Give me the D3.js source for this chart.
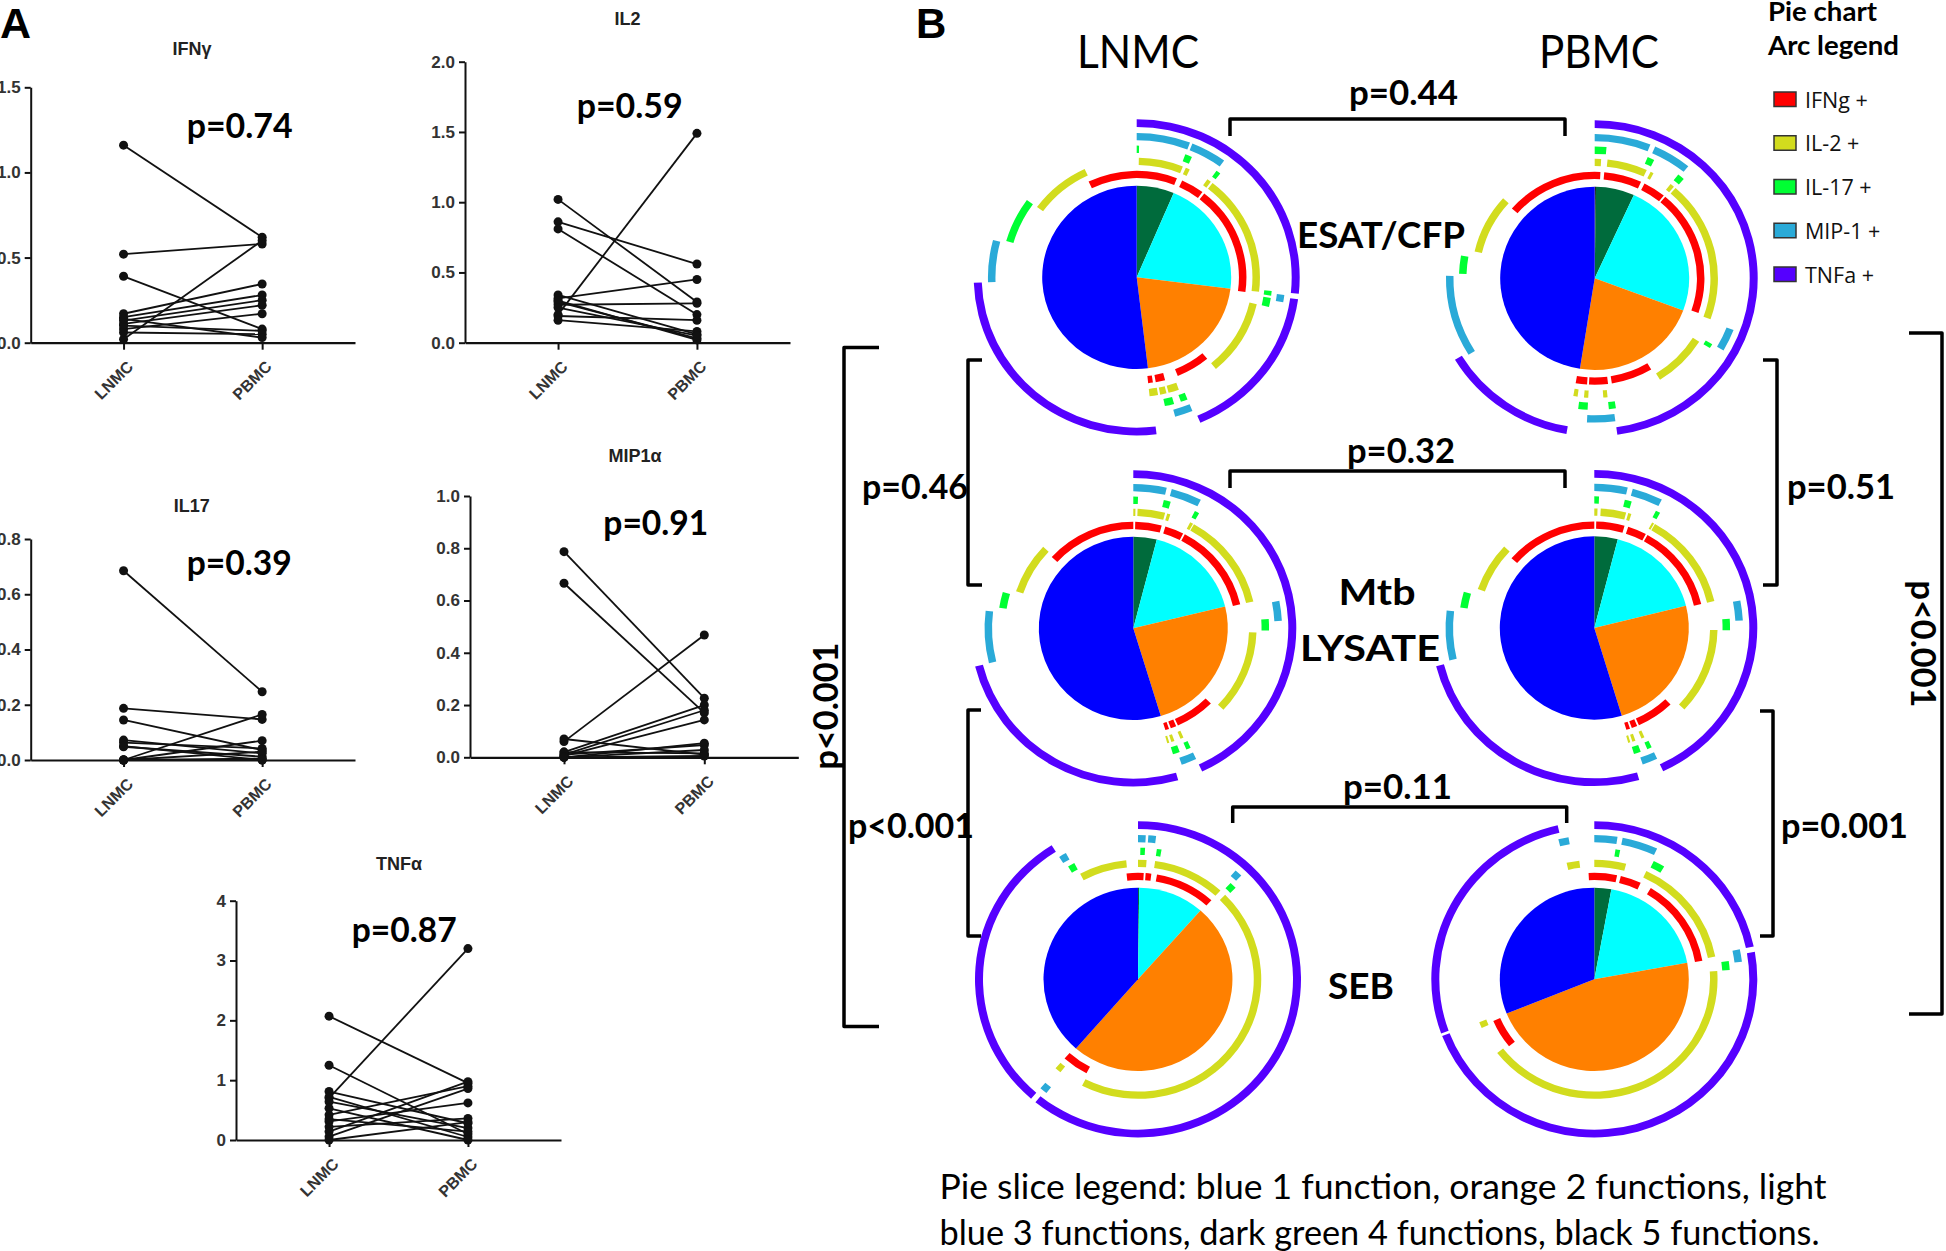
<!DOCTYPE html>
<html><head><meta charset="utf-8">
<script src="https://cdn.jsdelivr.net/npm/d3@7"></script>
<style>body{margin:0;background:#fff} svg{display:block}</style>
</head><body>
<svg id="chart" width="1946" height="1251"></svg>
<script>
// ================= DATA =================
// Panel A : paired LNMC vs PBMC values
const groups = ["LNMC", "PBMC"];
const cytokinePanels = ["IFNγ", "IL2", "IL17", "MIP1α", "TNFα"];
const pValuesA = ["p=0.74", "p=0.59", "p=0.39", "p=0.91", "p=0.87"];
const yMaxA = [1.5, 2.0, 0.8, 1.0, 4];
const yTicksA = [[0, 0.5, 1.0, 1.5], [0, 0.5, 1.0, 1.5, 2.0], [0, 0.2, 0.4, 0.6, 0.8], [0, 0.2, 0.4, 0.6, 0.8, 1.0], [0, 1, 2, 3, 4]];

const ifngLNMC = [1.16, 0.52, 0.39, 0.02, 0.17, 0.15, 0.13, 0.11, 0.08, 0.10, 0.06, 0.14];
const ifngPBMC = [0.62, 0.58, 0.08, 0.60, 0.345, 0.28, 0.25, 0.22, 0.17, 0.07, 0.05, 0.03];
const il2LNMC = [0.20, 1.02, 0.86, 0.81, 0.34, 0.315, 0.29, 0.27, 0.19, 0.16, 0.30, 0.25];
const il2PBMC = [1.49, 0.29, 0.56, 0.20, 0.06, 0.45, 0.03, 0.28, 0.16, 0.08, 0.02, 0.05];
const il17LNMC = [0.685, 0.187, 0.145, 0.0, 0.072, 0.063, 0.048, 0.0, 0.0, 0.0, 0.05, 0.0];
const il17PBMC = [0.247, 0.147, 0.036, 0.165, 0.024, 0.042, 0.012, 0.07, 0.03, 0.005, 0.0, 0.0];
const mipLNMC = [0.787, 0.666, 0.06, 0.07, 0.02, 0.01, 0.005, 0.0, 0.01, 0.0, 0.02, 0.0];
const mipPBMC = [0.226, 0.17, 0.468, 0.01, 0.20, 0.18, 0.143, 0.054, 0.047, 0.028, 0.015, 0.005];
const tnfLNMC = [0.70, 2.07, 1.25, 0.81, 0.72, 0.64, 0.53, 0.42, 0.31, 0.22, 0.14, 0.056, 0.0, 0.35];
const tnfPBMC = [3.20, 0.95, 0.10, 0.28, 0.05, 0.20, 0.0, 0.90, 0.62, 0.36, 0.975, 0.86, 0.30, 0.14];

// Panel B : SPICE pies
const sources = ["LNMC", "PBMC"];
const stimuli = [["ESAT/CFP"], ["Mtb", "LYSATE"], ["SEB"]];
const sliceLabels = ["5 functions", "4 functions", "3 functions", "2 functions", "1 function"];
const sliceColors = ["#000000", "#006b3c", "#00ffff", "#ff8000", "#0000ff"];
// slice shares (% of responding cells), order: 5,4,3,2,1 functions
const lnmcEsatSlices = [0.0, 6.4, 20.6, 21.1, 51.9];
const pbmcEsatSlices = [0.2, 6.6, 23.9, 21.8, 47.5];
const lnmcMtbSlices = [0.0, 4.0, 17.2, 24.1, 54.7];
const pbmcMtbSlices = [0.0, 4.0, 17.1, 24.2, 54.7];
const lnmcSebSlices = [0.0, 0.2, 11.3, 49.9, 38.6];
const pbmcSebSlices = [0.0, 2.9, 19.2, 46.8, 31.1];

const arcLegendLabels = ["IFNg +", "IL-2 +", "IL-17 +", "MIP-1 +", "TNFa +"];
const arcColors = ["#ff0000", "#d2dc1e", "#00ff33", "#2aaad8", "#5500ff"];
// arcs: [cytokine index, start deg, end deg] clockwise from 12 o'clock
const lnmcEsatArcs = [
  [0,-26,21.5],[0,24.5,36.8],[0,38,98],[0,140,158],[0,165,170],[0,171.5,174],
  [1,-54,-25],[1,1,22],[1,23.5,25.5],[1,35,37],[1,38,97],[1,103,140],[1,160,165],[1,166,169],[1,170,174],
  [2,-74,-54],[2,0,1],[2,21,24],[2,36,38],[2,96,98],[2,99,103],[2,158,161],[2,164,168],
  [3,-92,-75],[3,0,21],[3,22,36],[3,97,100],[3,158,165],
  [4,0,96],[4,98,157],[4,173,268]
];
const pbmcEsatArcs = [
  [0,-49,3],[0,5,25],[0,27,39],[0,40,109],[0,149,171],[0,173,183],[0,184,190],
  [1,-77,-48],[1,0,3],[1,6,25],[1,27,28.5],[1,38,40],[1,41,110],[1,122,148],[1,174,176],[1,183,185],[1,188,190],
  [2,-88,-80],[2,0,5],[2,23,26],[2,38,41],[2,120,122],[2,171,174],[2,183,187],
  [3,-122,-89],[3,0,22],[3,24,39],[3,111,120],[3,172,183],
  [4,0,172],[4,190,239]
];
const lnmcMtbArcs = [
  [0,-48,0],[0,1,15],[0,17,27],[0,28,77],[0,135,156],[0,157,160],[0,161,163],
  [1,-72,-47],[1,0,1],[1,2,15],[1,16,17.5],[1,27.5,29],[1,29.5,77],[1,92,133],[1,156,157.5],[1,160.5,162],[1,163,164],
  [2,-81,-74],[2,0,2],[2,13,16],[2,27,29],[2,86,91],[2,155,157],[2,160,163],
  [3,-104,-83],[3,0,13],[3,15,27],[3,79,87],[3,155,161],
  [4,0,155],[4,164,256]
];
const pbmcMtbArcs = [
  [0,-49,0],[0,1,16],[0,18,28],[0,29,77],[0,136,156],[0,157,160],[0,161,163],
  [1,-71,-47],[1,0,1.5],[1,3,15],[1,16,17.5],[1,28,29],[1,29.5,77],[1,91,133],[1,156,157.5],[1,160.5,162],[1,163,164],
  [2,-81,-74],[2,0,2],[2,13,16],[2,27,29],[2,86,91],[2,155,157],[2,160,163],
  [3,-103,-83],[3,0,13],[3,15,27],[3,79,87],[3,155,161],
  [4,0,155],[4,164,256]
];
const lnmcSebArcs = [
  [0,-6,3],[0,4,7],[0,10,42],[0,208,222],
  [1,-28,-5.5],[1,0,4],[1,8,42],[1,45,207],[1,219,222],
  [2,-31,-28],[2,1,3],[2,8,10],[2,43,46],
  [3,-32,-29],[3,0,3],[3,4,7],[3,41,44],[3,218,221],
  [4,0,219],[4,221,328]
];
const pbmcSebArcs = [
  [0,-3,12],[0,14,25],[0,31,80],[0,231,247],
  [1,-13,-7],[1,0,15],[1,25,79],[1,86,232],[1,246,249],
  [2,9,11],[2,26,31],[2,82,86],
  [3,-14,-10],[3,0,9],[3,11,25],[3,78,83],
  [4,0,78],[4,80,249],[4,250,347]
];
const pHorizontal = ["p=0.44", "p=0.32", "p=0.11"];
const pLeft = ["p=0.46", "p<0.001", "p<0.001"];
const pRight = ["p=0.51", "p=0.001", "p<0.001"];
const pieLegendLines = ["Pie slice legend: blue 1 function, orange 2 functions, light",
                        "blue 3 functions, dark green 4 functions, black 5 functions."];

// ================= DRAW =================
const svg = d3.select("#chart");
const FA = "'Liberation Sans', Arial, sans-serif";
const FB = "Lato, 'Open Sans', sans-serif";
const INK = "#111";

svg.append("text").attr("x", 0).attr("y", 38).text("A")
  .attr("font-family", FA).attr("font-weight", "bold").attr("font-size", 43);
svg.append("text").attr("x", 916).attr("y", 38).text("B")
  .attr("font-family", FA).attr("font-weight", "bold").attr("font-size", 42);

// ---------- Panel A ----------
const layoutA = [
  {ax: 30.7, y0: 342.7, yTop: 87.3, xEnd: 355, tx: 192, ty: 55, px: 186.7, py: 138, pw: 106},
  {ax: 465, y0: 342.7, yTop: 61.7, xEnd: 790, tx: 627.5, ty: 25, px: 576.7, py: 118, pw: 106},
  {ax: 30.7, y0: 760, yTop: 539, xEnd: 355, tx: 191.7, ty: 511.5, px: 186.7, py: 575, pw: 105},
  {ax: 470, y0: 757.3, yTop: 496, xEnd: 798.3, tx: 635, ty: 461.5, px: 603.3, py: 535, pw: 105},
  {ax: 236, y0: 1140, yTop: 900.7, xEnd: 561, tx: 399, ty: 870, px: 351.7, py: 941.7, pw: 105}
];
const seriesL = [ifngLNMC, il2LNMC, il17LNMC, mipLNMC, tnfLNMC];
const seriesP = [ifngPBMC, il2PBMC, il17PBMC, mipPBMC, tnfPBMC];

layoutA.forEach((L, i) => {
  const g = svg.append("g");
  const x = d3.scalePoint().domain(groups).range([L.ax, L.xEnd]).padding(0.67);
  const y = d3.scaleLinear().domain([0, yMaxA[i]]).range([L.y0, L.yTop]);

  const ya = g.append("g").attr("transform", `translate(${L.ax},0)`)
    .call(d3.axisLeft(y).tickValues(yTicksA[i]).tickFormat(i === 4 ? d3.format("d") : d3.format(".1f")).tickSize(6).tickSizeOuter(0));
  ya.select(".domain").attr("stroke", INK).attr("stroke-width", 2);
  ya.selectAll(".tick line").attr("stroke", INK).attr("stroke-width", 2);
  ya.selectAll(".tick text").attr("x", -10).attr("fill", "#333")
    .attr("font-family", FA).attr("font-weight", "bold").attr("font-size", 17);

  const xa = g.append("g").attr("transform", `translate(0,${L.y0})`)
    .call(d3.axisBottom(x).tickSize(7).tickSizeOuter(0));
  xa.select(".domain").attr("stroke", INK).attr("stroke-width", 2.2);
  xa.selectAll(".tick line").attr("stroke", INK).attr("stroke-width", 2);
  xa.selectAll(".tick text").attr("x", 0).attr("y", 0).attr("dy", 0)
    .attr("transform", "translate(10,25) rotate(-45)").attr("text-anchor", "end").attr("fill", "#333")
    .attr("font-family", FA).attr("font-weight", "bold").attr("font-size", 16);

  const pairs = seriesL[i].map((v, j) => [v, seriesP[i][j]]);
  g.selectAll("line.pair").data(pairs).join("line").attr("class", "pair")
    .attr("x1", x("LNMC")).attr("x2", x("PBMC"))
    .attr("y1", d => y(d[0])).attr("y2", d => y(d[1]))
    .attr("stroke", INK).attr("stroke-width", 1.8);
  const pts = pairs.flatMap(d => [["LNMC", d[0]], ["PBMC", d[1]]]);
  g.selectAll("circle").data(pts).join("circle")
    .attr("cx", d => x(d[0])).attr("cy", d => y(d[1])).attr("r", 4.5).attr("fill", INK);

  g.append("text").attr("x", L.tx).attr("y", L.ty).attr("text-anchor", "middle").text(cytokinePanels[i])
    .attr("font-family", FA).attr("font-weight", "bold").attr("font-size", 18).attr("fill", "#222");
  g.append("text").attr("x", L.px).attr("y", L.py).text(pValuesA[i])
    .attr("font-family", FB).attr("font-weight", "bold").attr("font-size", 35)
    .attr("textLength", L.pw).attr("lengthAdjust", "spacingAndGlyphs");
});

// ---------- Panel B ----------
const pieCenters = [[1136.7, 277.3], [1594.7, 278.3], [1133.3, 628.3], [1594.3, 628], [1138, 979.3], [1594.3, 979.3]];
const pieSlices = [lnmcEsatSlices, pbmcEsatSlices, lnmcMtbSlices, pbmcMtbSlices, lnmcSebSlices, pbmcSebSlices];
const pieArcs = [lnmcEsatArcs, pbmcEsatArcs, lnmcMtbArcs, pbmcMtbArcs, lnmcSebArcs, pbmcSebArcs];
const pieR = 94.5;
const ringR = [106, 119.5, 132, 145, 159];
const ringW = [7.5, 7.5, 7.5, 7.5, 8];
const rad = Math.PI / 180;
const pieGen = d3.pie().sort(null).value(d => d);
const sliceArc = d3.arc().innerRadius(0).outerRadius(pieR);
const ringArc = d3.arc()
  .innerRadius(d => ringR[d[0]] - ringW[d[0]] / 2)
  .outerRadius(d => ringR[d[0]] + ringW[d[0]] / 2)
  .startAngle(d => d[1] * rad).endAngle(d => d[2] * rad);

pieCenters.forEach((c, k) => {
  const g = svg.append("g").attr("transform", `translate(${c[0]},${c[1]}) scale(1,0.97)`);
  g.selectAll("path.slice").data(pieGen(pieSlices[k])).join("path").attr("class", "slice")
    .attr("d", sliceArc).attr("fill", (d, i) => sliceColors[i]);
  g.selectAll("path.ring").data(pieArcs[k]).join("path").attr("class", "ring")
    .attr("d", ringArc).attr("fill", d => arcColors[d[0]]);
});

// column headers
const headerPos = [[1138, 68, 122], [1599, 68, 120]];
sources.forEach((s, i) => {
  svg.append("text").attr("x", headerPos[i][0] - headerPos[i][2] / 2).attr("y", headerPos[i][1])
    .text(s).attr("font-family", FB).attr("font-size", 46)
    .attr("textLength", headerPos[i][2]).attr("lengthAdjust", "spacingAndGlyphs");
});

// stimulus labels
const stimPos = [[[1381, 248, 168]], [[1377, 605, 77], [1370, 661, 140]], [[1361, 999, 66]]];
stimuli.forEach((lines, i) => {
  lines.forEach((t, j) => {
    const p = stimPos[i][j];
    svg.append("text").attr("x", p[0] - p[2] / 2).attr("y", p[1]).text(t)
      .attr("font-family", FB).attr("font-weight", "bold").attr("font-size", 37)
      .attr("textLength", p[2]).attr("lengthAdjust", "spacingAndGlyphs");
  });
});

// brackets
const bStroke = {stroke: "#000", "stroke-width": 3.5, fill: "none", "stroke-linejoin": "round", "stroke-linecap": "butt"};
function bracket(d) {
  const p = svg.append("path").attr("d", d);
  Object.entries(bStroke).forEach(([k, v]) => p.attr(k, v));
}
const hBr = [[1230, 1565, 119, 136], [1230, 1565, 471, 488], [1232.7, 1566.7, 807, 823]];
hBr.forEach(b => bracket(`M${b[0]},${b[3]} V${b[2]} H${b[1]} V${b[3]}`));
const vBr = [[968, 982, 360, 585], [968, 981, 710, 936], [844, 879, 347.5, 1026.5],
             [1777, 1763, 360, 585], [1773, 1760, 711, 936], [1942, 1909, 333, 1014]];
vBr.forEach(b => bracket(`M${b[1]},${b[2]} H${b[0]} V${b[3]} H${b[1]}`));

function pText(t, x, y, w, rot) {
  const el = svg.append("text").text(t)
    .attr("font-family", FB).attr("font-weight", "bold").attr("font-size", 35)
    .attr("textLength", w).attr("lengthAdjust", "spacingAndGlyphs");
  if (rot) el.attr("x", -w / 2).attr("y", 0).attr("transform", `translate(${x},${y}) rotate(${rot})`);
  else el.attr("x", x).attr("y", y);
}
const hPPos = [[1349, 105, 109], [1347, 463, 108], [1343, 799, 109]];
pHorizontal.forEach((t, i) => pText(t, ...hPPos[i]));
pText(pLeft[0], 862, 499, 106);
pText(pLeft[1], 848, 838, 126);
pText(pLeft[2], 838, 706, 127, -90);
pText(pRight[0], 1787, 499, 108);
pText(pRight[1], 1781, 838, 127);
pText(pRight[2], 1911, 644, 127, 90);

// arc legend
svg.append("text").attr("x", 1768).attr("y", 21).text("Pie chart")
  .attr("font-family", FB).attr("font-weight", "bold").attr("font-size", 26)
  .attr("textLength", 109).attr("lengthAdjust", "spacingAndGlyphs");
svg.append("text").attr("x", 1768).attr("y", 55).text("Arc legend")
  .attr("font-family", FB).attr("font-weight", "bold").attr("font-size", 26)
  .attr("textLength", 131).attr("lengthAdjust", "spacingAndGlyphs");
const legY = d3.scalePoint().domain(arcLegendLabels).range([92, 267]);
arcLegendLabels.forEach((lab, i) => {
  svg.append("rect").attr("x", 1774).attr("y", legY(lab)).attr("width", 22).attr("height", 14.5)
    .attr("fill", arcColors[i]).attr("stroke", "#333").attr("stroke-width", 1.5);
  svg.append("text").attr("x", 1805).attr("y", legY(lab) + 15.5).text(lab)
    .attr("font-family", "'Open Sans', sans-serif").attr("font-size", 21.5).attr("fill", "#111");
});

// pie slice legend
const legLinePos = [[939.5, 1199, 887], [939.5, 1245, 880]];
pieLegendLines.forEach((t, i) => {
  svg.append("text").attr("x", legLinePos[i][0]).attr("y", legLinePos[i][1]).text(t)
    .attr("font-family", FB).attr("font-size", 34)
    .attr("textLength", legLinePos[i][2]).attr("lengthAdjust", "spacingAndGlyphs");
});
</script>
</body></html>
